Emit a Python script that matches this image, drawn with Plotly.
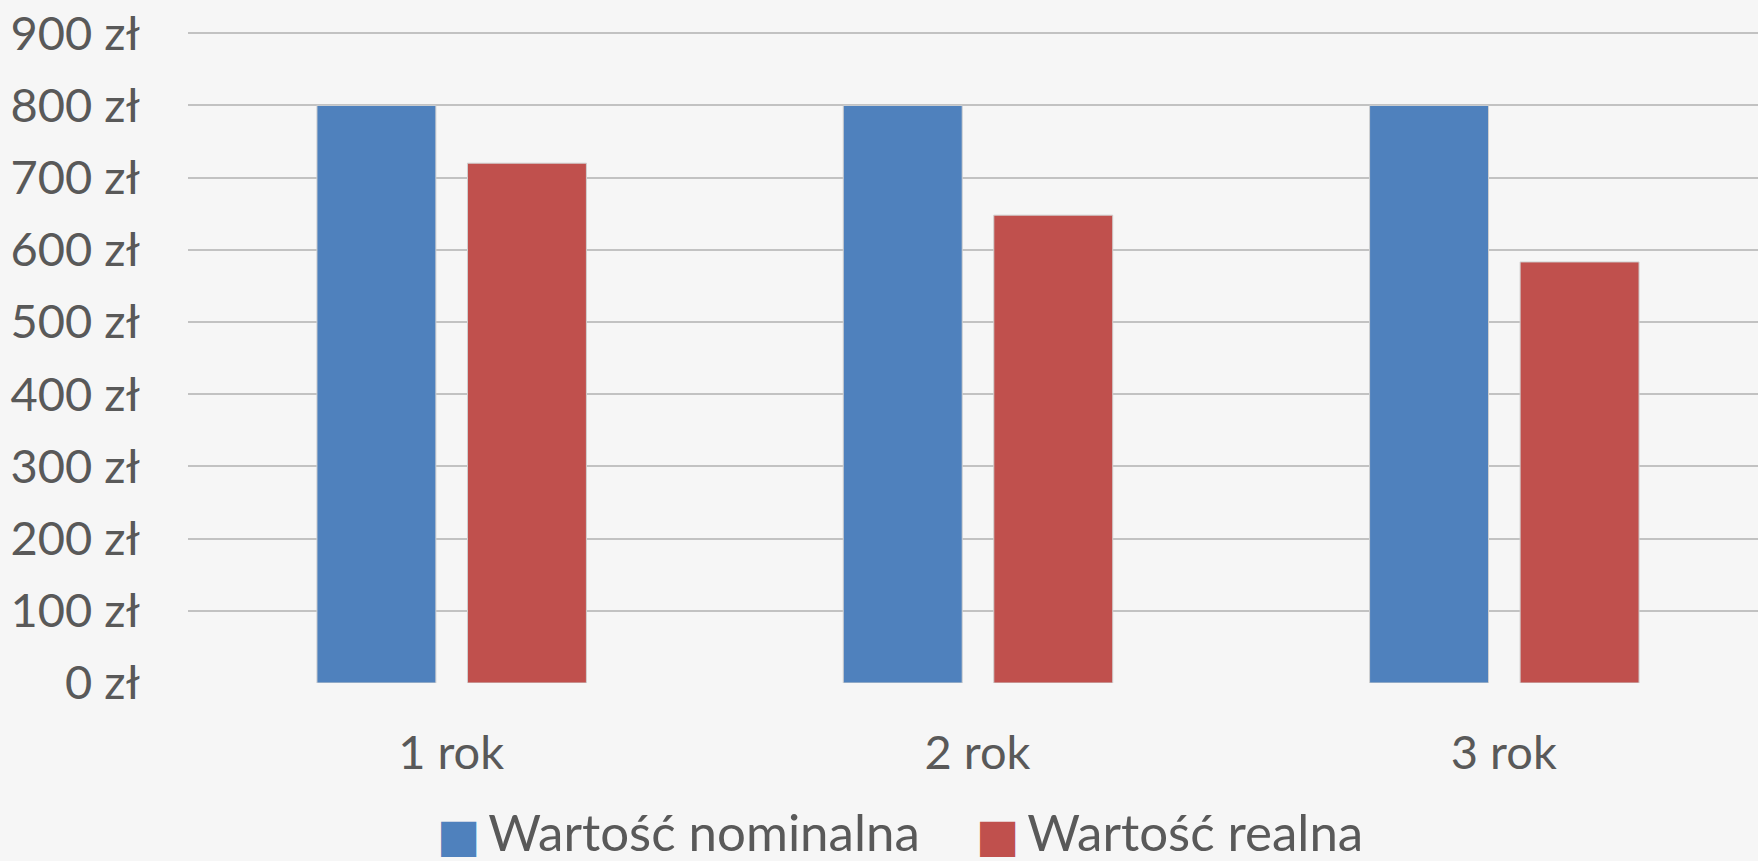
import plotly.graph_objects as go

categories = ["1 rok", "2 rok", "3 rok"]
nominal = [800, 800, 800]
real = [720, 648, 583.2]
series_names = ["Wartość nominalna", "Wartość realna"]
colors = ["#4F81BD", "#C0504D"]
ytick_vals = [0, 100, 200, 300, 400, 500, 600, 700, 800, 900]

FONT = "Lato"
TXT = "#595959"

fig = go.Figure()
fig.add_trace(go.Bar(x=categories, y=nominal, name=series_names[0],
                     marker=dict(color=colors[0], line=dict(color="#d0d0d0", width=1)),
                     width=0.226, offset=-0.255, showlegend=False))
fig.add_trace(go.Bar(x=categories, y=real, name=series_names[1],
                     marker=dict(color=colors[1], line=dict(color="#d0d0d0", width=1)),
                     width=0.226, offset=0.031, showlegend=False))

W, H = 1758, 861
left, top, bottom = 188, 26.4, 178.2

fig.update_layout(
    width=W, height=H,
    margin=dict(l=left, r=0, t=top, b=bottom, pad=0),
    paper_bgcolor="#f6f6f6", plot_bgcolor="rgba(0,0,0,0)",
    barmode="overlay",
    font=dict(family=FONT, color=TXT, size=47),
    xaxis=dict(range=[-0.5, 2.483], showgrid=False, zeroline=False, showline=False, ticks="",
               ticklabelstandoff=38, tickfont=dict(size=47, family=FONT, color=TXT)),
    yaxis=dict(range=[0, 910], tickvals=ytick_vals, ticktext=[f"{v} zł" for v in ytick_vals],
               showgrid=True, gridcolor="#c2c2c2", gridwidth=2, zeroline=False, showline=False, ticks="",
               ticklabelstandoff=47, tickfont=dict(size=47, family=FONT, color=TXT)),
    showlegend=False,
)

plot_w = W - left
plot_h = H - top - bottom
leg_y = (H - bottom - 831) / plot_h
for name, col, px in zip(series_names, colors, [435, 974]):
    fig.add_annotation(xref="paper", yref="paper", x=(px - left) / plot_w, y=leg_y,
                       xanchor="left", yanchor="middle", showarrow=False,
                       text=(f"<span style='color:{col};font-family:DejaVu Sans;font-size:46px'>■</span>"
                             f"<span style='font-size:30px'> </span>{name}"),
                       font=dict(size=51, family=FONT, color=TXT))

fig.write_html("out.html", config={"displayModeBar": False},
               post_script="document.body.style.margin='0';document.body.style.overflow='hidden';")
